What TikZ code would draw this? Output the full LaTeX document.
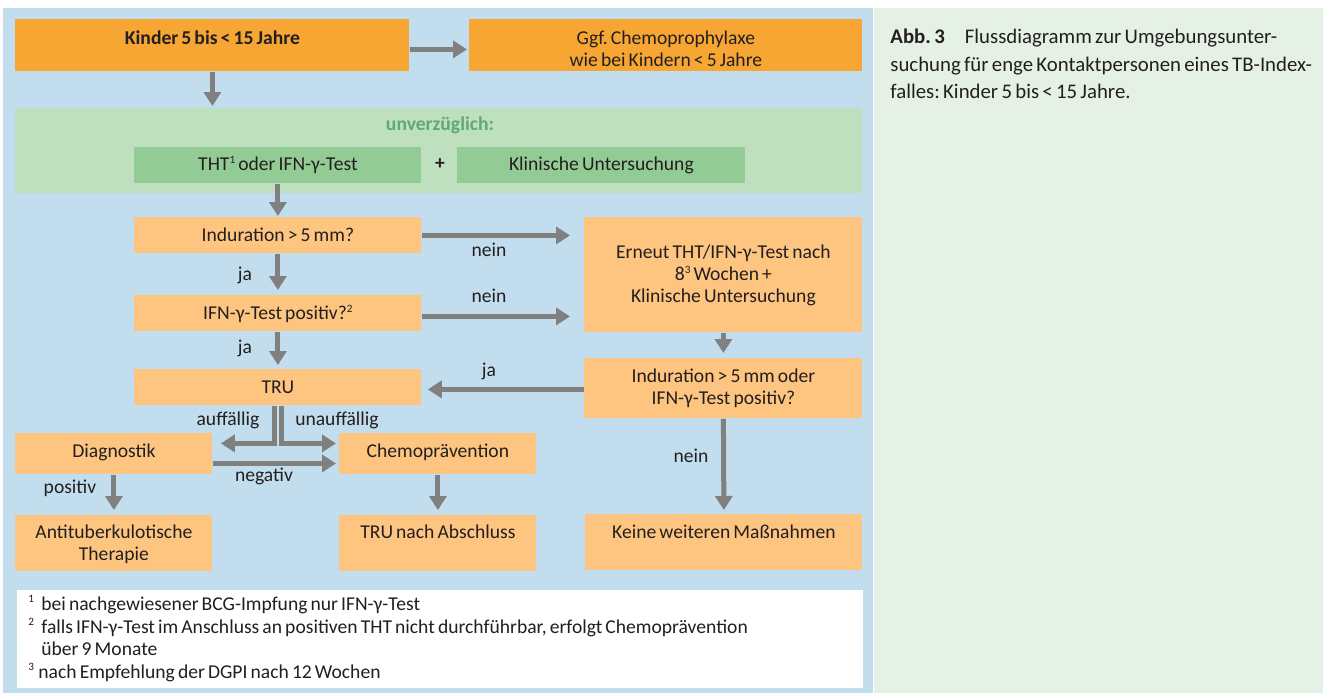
\documentclass[tikz,border=0pt]{standalone}
\usepackage{fontspec}
\setmainfont{Carlito}[WordSpace=0.7]
\frenchspacing
\usetikzlibrary{arrows.meta,calc}

\definecolor{panelblue}{HTML}{C2DEEE}
\definecolor{panelgreen}{HTML}{E5F1E4}
\definecolor{darkorange}{HTML}{F7A633}
\definecolor{boxorange}{HTML}{FDC580}
\definecolor{bandgreen}{HTML}{BEE0BE}
\definecolor{testgreen}{HTML}{92CC94}
\definecolor{arrowgray}{HTML}{808080}
\definecolor{nowgreen}{HTML}{5EAA73}
\definecolor{textdark}{HTML}{231F20}

\newcommand\hochz[1]{\raisebox{0.36em}{\fontsize{5.6}{6}\selectfont #1}}

\begin{document}
\begin{tikzpicture}[
        x=0.5pt, y=-0.5pt,
        every node/.style={font=\fontsize{9.8}{11}\selectfont, text=textdark},
        box/.style={fill=boxorange, inner sep=0pt, anchor=north west, align=flush center},
        arr/.style={draw=arrowgray, line width=2.5pt, -{Triangle[length=7pt,width=8.5pt]}},
        lbl/.style={anchor=base, inner sep=0pt},
      ]
      \useasboundingbox (0,0) rectangle (1323,693);
      \fill[panelblue] (3,8) rectangle (873,693);
      \fill[panelgreen] (874,8) rectangle (1323,693);

      % top row
      \node[box, fill=darkorange, text width=197pt, text height=12.5pt, text depth=13.5pt] (kinder) at (15,19) {\bfseries Kinder 5 bis < 15 Jahre};
      \node[box, fill=darkorange, text width=196.5pt, text height=12.5pt, text depth=13.5pt] (ggf) at (469,19) {Ggf. Chemoprophylaxe\\wie bei Kindern < 5 Jahre};

      % unverzueglich
      \node[box, fill=bandgreen, minimum width=423.5pt, minimum height=42.5pt] (band) at (15,108) {};
      \node[lbl, text=nowgreen, font=\fontsize{9.8}{11}\selectfont\bfseries] (now) at (440,130) {unverzüglich:};
      \node[box, fill=testgreen, text width=143.5pt, text height=11.5pt, text depth=6.5pt] (tht) at (134,147) {THT\hochz{1} oder IFN-γ-Test};
      \node[lbl, font=\fontsize{9.8}{11}\selectfont\bfseries] (plus) at (440,169) {+};
      \node[box, fill=testgreen, text width=144pt, text height=11.5pt, text depth=6.5pt] (klin) at (457,147) {Klinische Untersuchung};

      % tests
      \node[box, text width=143.5pt, text height=12pt, text depth=6pt] (ind1) at (134,217) {Induration > 5 mm?};
      \node[box, text width=139pt, text height=20.5pt, text depth=37pt] (erneut) at (584,217) {Erneut THT/IFN-γ-Test nach\\8\hochz{3} Wochen +\\Klinische Untersuchung};
      \node[box, text width=143.5pt, text height=12pt, text depth=6pt] (ifn) at (134,295) {IFN-γ-Test positiv?\hochz{2}};
      \node[box, text width=143.5pt, text height=12pt, text depth=6pt] (tru) at (134,369) {TRU};
      \node[box, text width=139pt, text height=12pt, text depth=18pt] (indo) at (584,358) {Induration > 5 mm oder\\IFN-γ-Test positiv?};

      % results
      \node[box, text width=98.5pt, text height=12pt, text depth=8.5pt] (diag) at (15,433) {Diagnostik};
      \node[box, text width=98.5pt, text height=12pt, text depth=8.5pt] (chemo) at (339,433) {Chemoprävention};
      \node[box, text width=98.5pt, text height=11.5pt, text depth=16.5pt] (anti) at (15,515) {Antituberkulotische\\Therapie};
      \node[box, text width=98.5pt, text height=11.5pt, text depth=16.5pt] (trun) at (339,515) {TRU nach Abschluss};
      \node[box, text width=138.5pt, text height=12pt, text depth=16pt] (keine) at (585,514) {Keine weiteren Maßnahmen};

      % arrows
      \draw[arr] ($(kinder.east)+(0,4)$) -- ($(ggf.west)+(-2,4)$);
      \draw[arr] (kinder.south) -- ($(kinder.south |- band.north)+(0,-2)$);
      \draw[arr] (tht.south) -- ($(ind1.north)+(0,-1)$);
      \draw[arr] (ind1.east) -- ($(ind1.east -| erneut.west)+(-14,0)$);
      \draw[arr] (ind1.south) -- ($(ifn.north)+(0,-5)$);
      \draw[arr] ($(ifn.east)+(0,3)$) -- ($(ifn.east -| erneut.west)+(-14,3)$);
      \draw[arr] (ifn.south) -- ($(tru.north)+(0,-4)$);
      \draw[arr] (erneut.south) -- ($(indo.north)+(0,-5)$);
      \draw[arr] ($(indo.west)+(0,1)$) -- ($(indo.west -| tru.east)+(6,1)$);
      \draw[arr] ($(tru.south)+(-3.5,0)$) |- ($(diag.east)+(8,-10.5)$);
      \draw[arr] ($(tru.south)+(3.5,0)$) |- ($(chemo.west)+(-3,-10.5)$);
      \draw[arr] ($(diag.east)+(0,9.5)$) -- ($(chemo.west)+(-3,9.5)$);
      \draw[arr] (diag.south) -- ($(anti.north)+(0,-5)$);
      \draw[arr] (chemo.south) -- ($(trun.north)+(0,-5)$);
      \draw[arr] (indo.south) -- ($(keine.north)+(0,-4)$);

      % arrow labels
      \node[lbl] (nein1) at (489,256) {nein};
      \node[lbl] (nein2) at (489,302) {nein};
      \node[lbl] (ja1) at (245,280) {ja};
      \node[lbl] (ja2) at (245,353) {ja};
      \node[lbl] (ja3) at (489,376) {ja};
      \node[lbl] (auff) at (228,425) {auffällig};
      \node[lbl] (unauff) at (337,425) {unauffällig};
      \node[lbl] (neg) at (264,481) {negativ};
      \node[lbl] (pos) at (70,493) {positiv};
      \node[lbl] (nein3) at (691,462) {nein};

      % footnotes
      \fill[white] (17,590) rectangle (863,688);
      \node[lbl, anchor=base west] (fn1) at (28,610) {\makebox[6.5pt][l]{\hochz{1}}bei nachgewiesener BCG-Impfung nur IFN-γ-Test};
      \node[lbl, anchor=base west] (fn2) at (28,633) {\makebox[6.5pt][l]{\hochz{2}}falls IFN-γ-Test im Anschluss an positiven THT nicht durchführbar, erfolgt Chemoprävention};
      \node[lbl, anchor=base west] (fn2b) at (41,655) {über 9 Monate};
      \node[lbl, anchor=base west] (fn3) at (28,678) {\makebox[5pt][l]{\hochz{3}}nach Empfehlung der DGPI nach 12 Wochen};

      % caption
      \node[lbl, anchor=base west, font=\fontsize{10.4}{13}\selectfont] (cap1) at (890,43) {\textbf{Abb.\,3}\hspace{10pt}Flussdiagramm zur Umgebungsunter-};
      \node[lbl, anchor=base west, font=\fontsize{10.4}{13}\selectfont] (cap2) at (890,71) {suchung für enge Kontaktpersonen eines TB-Index-};
      \node[lbl, anchor=base west, font=\fontsize{10.4}{13}\selectfont] (cap3) at (890,98) {falles: Kinder 5 bis < 15 Jahre.};
    \end{tikzpicture}
\end{document}
